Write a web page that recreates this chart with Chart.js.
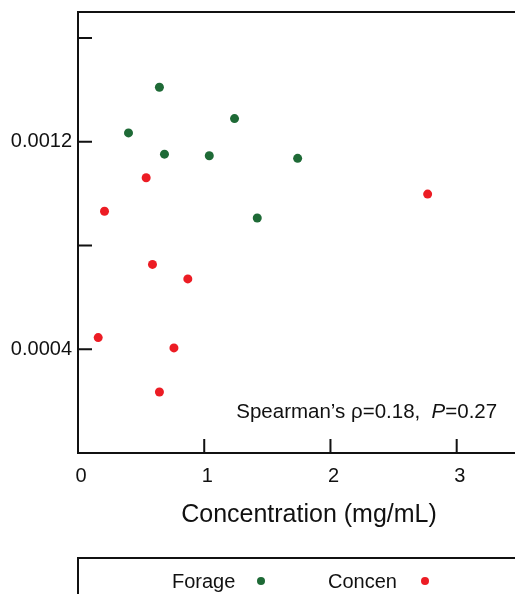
<!DOCTYPE html>
<html>
<head>
<meta charset="utf-8">
<script src="https://cdn.jsdelivr.net/npm/chart.js@4"></script>
<style>
  html, body { margin: 0; padding: 0; background: #fff; overflow: hidden; }
  #wrap { position: relative; width: 515px; height: 594px; overflow: hidden; }
  #scatter { position: absolute; left: 0; top: 0; }
  .legend {
    position: absolute; left: 77px; top: 557px; width: 600px; height: 80px;
    border: 2px solid #111; box-sizing: border-box;
    font-family: "Liberation Sans", Arial, sans-serif; font-size: 20px; color: #111;
  }
  .legend span { position: absolute; top: 10px; line-height: 24px; white-space: nowrap; }
  .legend i { position: absolute; top: 18px; width: 8px; height: 8px; border-radius: 50%; }
</style>
</head>
<body>
<div id="wrap">
  <canvas id="scatter" width="600" height="594"></canvas>
  <div class="legend">
    <span style="left:93px">Forage</span><i style="left:178px;background:#1e6a36"></i>
    <span style="left:249px">Concen</span><i style="left:342px;background:#ec1c24"></i>
  </div>
</div>
<script>
// dane
const forageX = [0.40, 0.645, 0.685, 1.04, 1.24, 1.42, 1.74];
const forageY = [0.001234, 0.001410, 0.001152, 0.001146, 0.001289, 0.000906, 0.001136];
const concenX = [0.16, 0.21, 0.54, 0.59, 0.645, 0.76, 0.87, 2.77];
const concenY = [0.000445, 0.000932, 0.001061, 0.000727, 0.000235, 0.000405, 0.000671, 0.000998];
const yTickLabels = ['0.0004', '0.0012'];
const xTitle = 'Concentration (mg/mL)';
const statText = ['Spearman\u2019s \u03c1=0.18,  ', 'P', '=0.27'];

const FONT = '"Liberation Sans", Arial, sans-serif';
const INK = '#111';

const toPoints = (xs, ys) => xs.map((x, i) => ({ x: x, y: ys[i] }));

// ramka u góry, kreski skali do środka i napis ze statystyką
const framePlugin = {
  id: 'frame',
  afterDraw(chart) {
    const { ctx, chartArea: a, scales: { x, y } } = chart;
    ctx.save();
    ctx.strokeStyle = INK;
    ctx.lineWidth = 2;
    ctx.beginPath();
    ctx.moveTo(a.left - 1, a.top);
    ctx.lineTo(a.right, a.top);
    y.ticks.forEach(t => {
      if (t.value <= 0) return;
      const py = y.getPixelForValue(t.value);
      ctx.moveTo(a.left, py);
      ctx.lineTo(a.left + 14, py);
    });
    x.ticks.forEach(t => {
      if (t.value <= 0) return;
      const px = x.getPixelForValue(t.value);
      ctx.moveTo(px, a.bottom);
      ctx.lineTo(px, a.bottom - 14);
    });
    ctx.stroke();

    ctx.fillStyle = INK;
    ctx.textBaseline = 'middle';
    ctx.textAlign = 'left';
    let tx = x.getPixelForValue(1.254);
    const ty = y.getPixelForValue(0.000157);
    statText.forEach((s, i) => {
      ctx.font = (i === 1 ? 'italic ' : '') + '20.5px ' + FONT;
      ctx.fillText(s, tx, ty);
      tx += ctx.measureText(s).width;
    });
    ctx.restore();
  }
};

const ctx = document.getElementById('scatter').getContext('2d');

const scatterChart = new Chart(ctx, {
  type: 'scatter',
  data: {
    datasets: [{
      label: 'Forage',
      data: toPoints(forageX, forageY),
      backgroundColor: '#1e6a36',
      borderWidth: 0,
      pointRadius: 4.5
    }, {
      label: 'Concen',
      data: toPoints(concenX, concenY),
      backgroundColor: '#ec1c24',
      borderWidth: 0,
      pointRadius: 4.5
    }]
  },
  options: {
    responsive: false,
    animation: false,
    devicePixelRatio: 1,
    layout: { padding: { left: 0, top: 12, right: 60, bottom: 64 } },
    plugins: {
      legend: { display: false },
      tooltip: { enabled: false }
    },
    scales: {
      x: {
        type: 'linear',
        min: 0,
        max: 3.66,
        grid: { display: false, drawTicks: false },
        border: { display: true, width: 2, color: INK },
        ticks: {
          stepSize: 1,
          includeBounds: false,
          padding: 11,
          labelOffset: 3,
          color: INK,
          font: { family: FONT, size: 20 }
        },
        title: {
          display: true,
          text: xTitle,
          color: INK,
          padding: { top: 0, bottom: 0 },
          font: { family: FONT, size: 25 }
        },
        afterFit(scale) { scale.height = 77; }
      },
      y: {
        min: 0,
        max: 0.0017,
        grid: { display: false, drawTicks: false },
        border: { display: true, width: 2, color: INK },
        ticks: {
          stepSize: 0.0004,
          includeBounds: false,
          padding: 6,
          color: INK,
          font: { family: FONT, size: 20 },
          callback: function (value) {
            const s = value.toFixed(4);
            return yTickLabels.includes(s) ? s : '';
          }
        },
        afterFit(scale) {
          scale.width = 78;
          scale.paddingTop = 0;
          scale.paddingBottom = 0;
        }
      }
    }
  },
  plugins: [framePlugin]
});
</script>
</body>
</html>
